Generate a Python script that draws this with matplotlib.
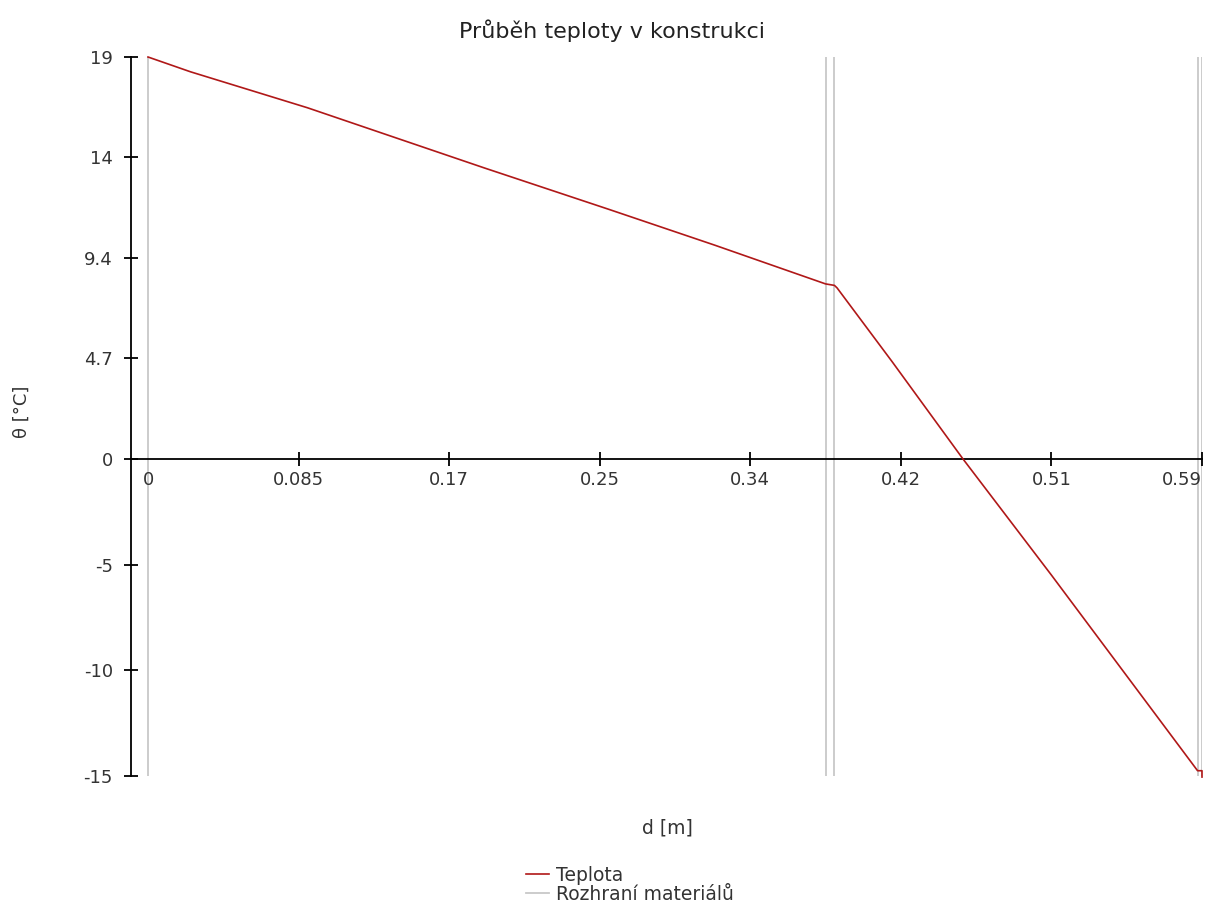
import matplotlib
matplotlib.use("Agg")
import matplotlib.pyplot as plt

# temperature profile
d = [0, 0.024, 0.09, 0.19, 0.26, 0.32, 0.3825, 0.3875, 0.389, 0.42, 0.46, 0.51, 0.5925, 0.595, 0.595]
teplota = [19, 18.3, 16.6, 13.75, 11.8, 10.1, 8.27, 8.2, 8.08, 4.6, 0, -5.5, -14.75, -14.75, -15.05]

# material interfaces
rozhrani = [0, 0.3825, 0.3875, 0.5925, 0.595]

xticks = [0, 0.085, 0.17, 0.255, 0.34, 0.425, 0.51, 0.595]
xlabels = ['0', '0.085', '0.17', '0.25', '0.34', '0.42', '0.51', '0.59']
yticks = [19, 14.25, 9.5, 4.75, 0, -5, -10, -15]
ylabels = ['19', '14', '9.4', '4.7', '0', '-5', '-10', '-15']

plt.rcParams['font.family'] = ['DejaVu Sans']
txt = '#333333'

fig = plt.figure(figsize=(12.1, 9.09), dpi=100)
ax = fig.add_axes([131/1210, 1 - 776/909, 1071/1210, 719/909])

for i, x in enumerate(rozhrani):
    ax.axvline(x, color='#c8c8c8', lw=1.3, zorder=1,
               label='Rozhraní materiálů' if i == 0 else None)
ax.plot(d, teplota, color='#b01818', lw=1.2, zorder=3, clip_on=False, label='Teplota')

ax.set_xlim(-0.0096, 0.595)
ax.set_ylim(-15, 19)

for s in ['top', 'right']:
    ax.spines[s].set_visible(False)
ax.spines['bottom'].set_position(('data', 0))
for s in ['bottom', 'left']:
    ax.spines[s].set_linewidth(1.3)
    ax.spines[s].set_color('black')

ax.set_xticks(xticks)
ax.set_xticklabels(xlabels)
ax.set_yticks(yticks)
ax.set_yticklabels(ylabels)
ax.tick_params(axis='x', direction='inout', length=10, width=1.3, pad=4,
               labelsize=13, labelcolor=txt)
ax.tick_params(axis='y', direction='inout', length=10, width=1.3, pad=8,
               labelsize=13, labelcolor=txt)
ax.xaxis.get_major_ticks()[0].tick1line.set_visible(False)
ax.get_xticklabels()[-1].set_horizontalalignment('right')

fig.text(612/1210, 1 - 31/909, 'Průběh teploty v konstrukci', ha='center', va='center',
         fontsize=16, color='#222222')
fig.text(667/1210, 1 - 828/909, 'd [m]', ha='center', va='center', fontsize=13.5, color=txt)
fig.text(22/1210, 1 - 412/909, 'θ [°C]', ha='center', va='center', rotation=90,
         fontsize=13, color=txt)

h, l = ax.get_legend_handles_labels()
leg = fig.legend(h[::-1], l[::-1], loc='center left', bbox_to_anchor=(517/1210, 1 - 885/909),
                 frameon=False, fontsize=13.5, handlelength=1.2, handletextpad=0.4,
                 labelspacing=0.0, borderpad=0)
for t in leg.get_texts():
    t.set_color(txt)

fig.savefig('out.png', dpi=100)
